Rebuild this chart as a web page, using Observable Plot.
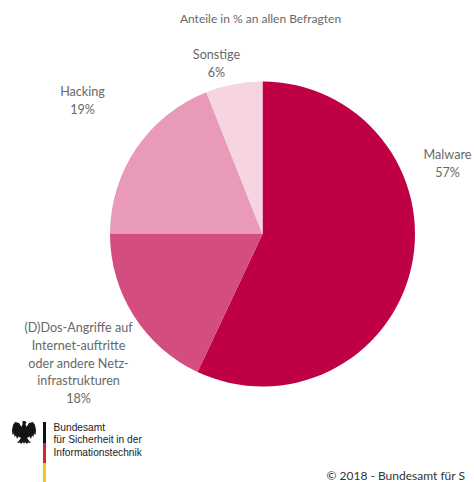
<!DOCTYPE html>
<html>
<head>
<meta charset="utf-8">
<script src="https://cdn.jsdelivr.net/npm/d3@7"></script>
<script src="https://cdn.jsdelivr.net/npm/@observablehq/plot@0.6"></script>
<style>
  html, body { margin: 0; padding: 0; background: #fff; overflow: hidden; }
  svg { display: block; }
</style>
</head>
<body>
<div id="chart"></div>
<script>
// Angriffsarten, im Uhrzeigersinn ab 12 Uhr
const categories = ["Malware", "(D)Dos-Angriffe auf\nInternet-auftritte\noder andere Netz-\ninfrastrukturen", "Hacking", "Sonstige"];
const shares = [57, 18, 19, 6];
const colors = ["#c00044", "#d44d80", "#e89ab8", "#f6d5e1"];

const title = "Anteile in % an allen Befragten";
const copyright = "© 2018 - Bundesamt für S";
const orgLines = ["Bundesamt", "für Sicherheit in der", "Informationstechnik"];
const flagStripes = ["#111111", "#d8232a", "#f5c518"];

const W = 474, H = 482;
const center = {x: 262.5, y: 234}, radius = 152.5;
const labelAnchor = [[447, 146], [78, 319], [82, 83], [216, 46]];
const font = "Lato, sans-serif";
const grey = "#686868";

const slices = categories.map((label, i) => ({
  label,
  share: shares[i],
  text: `${label}\n${shares[i]}%`,
  at: labelAnchor[i]
}));

// Kreissegmente: je Kategorie ein Punkt im Mittelpunkt, als Bogen gezeichnet
function renderPie(index, scales, values) {
  const arcs = d3.pie().sort(null).value((d) => d.share)(slices);
  const arc = d3.arc().innerRadius(0).outerRadius(radius);
  const g = d3.create("svg:g");
  for (const i of index) {
    g.append("path")
      .attr("transform", `translate(${values.x[i]},${values.y[i]})`)
      .attr("d", arc(arcs[i]))
      .attr("fill", values.fill[i]);
  }
  return g.node();
}

// Bundesadler, stark vereinfacht
function eagle() {
  const g = d3.create("svg:g").attr("transform", "translate(24,432)").attr("fill", "#151515");
  g.append("path").attr("d",
    "M-1.5-11 L1-11 L2.5-9.5 L1.5-8 L2.5-5 L5-9 L9-10 L11-7 L12-2 L11.5 3 L10 1.5 L9.5 5 L8 3.5 L7 7 L5.5 4.5 L3 6 " +
    "L4.5 8 L7 11 L4 10.5 L3 12 L1 10 L0 12 L-1 10 L-3 12 L-4 10.5 L-7 11 L-4.5 8 L-3 6 L-5.5 4.5 L-7 7 L-8 3.5 L-9.5 5 " +
    "L-10 1.5 L-11.5 3 L-12-2 L-11-7 L-9-10 L-5-9 L-2.5-5 L-1.5-8 Z");
  return g.node();
}

const stripeRows = [[422, 443], [443, 463], [463, 482]];

const chart = Plot.plot({
  width: W,
  height: H,
  margin: 0,
  style: {background: "#fff", fontFamily: font},
  x: {domain: [0, W], range: [0, W], axis: null},
  y: {domain: [0, H], range: [0, H], axis: null},
  color: {type: "ordinal", domain: categories, range: colors},
  marks: [
    Plot.dot(slices, {
      x: () => center.x,
      y: () => center.y,
      fill: "label",
      render: renderPie
    }),
    Plot.text(slices, {
      x: (d) => d.at[0],
      y: (d) => d.at[1],
      text: "text",
      textAnchor: "middle",
      lineAnchor: "top",
      lineHeight: 1.41,
      fontSize: 12.6,
      fill: grey
    }),
    Plot.text([title], {
      x: () => 260,
      y: () => 19,
      text: (d) => d,
      fontSize: 12,
      fill: grey
    }),
    Plot.text([copyright], {
      x: () => 326,
      y: () => 476,
      text: (d) => d,
      textAnchor: "start",
      fontSize: 12,
      letterSpacing: 0.95,
      fill: "#333"
    }),
    eagle,
    Plot.rect(flagStripes, {
      x1: () => 43,
      x2: () => 46,
      y1: (d, i) => stripeRows[i][0],
      y2: (d, i) => stripeRows[i][1],
      fill: (d) => d
    }),
    Plot.text(orgLines, {
      x: () => 53,
      y: (d, i) => 427 + i * 12.5,
      text: (d) => d,
      textAnchor: "start",
      fontFamily: "Liberation Sans Narrow, Liberation Sans, sans-serif",
      fontSize: 10.2,
      fill: "#222"
    })
  ]
});

document.getElementById("chart").appendChild(chart);
</script>
</body>
</html>
